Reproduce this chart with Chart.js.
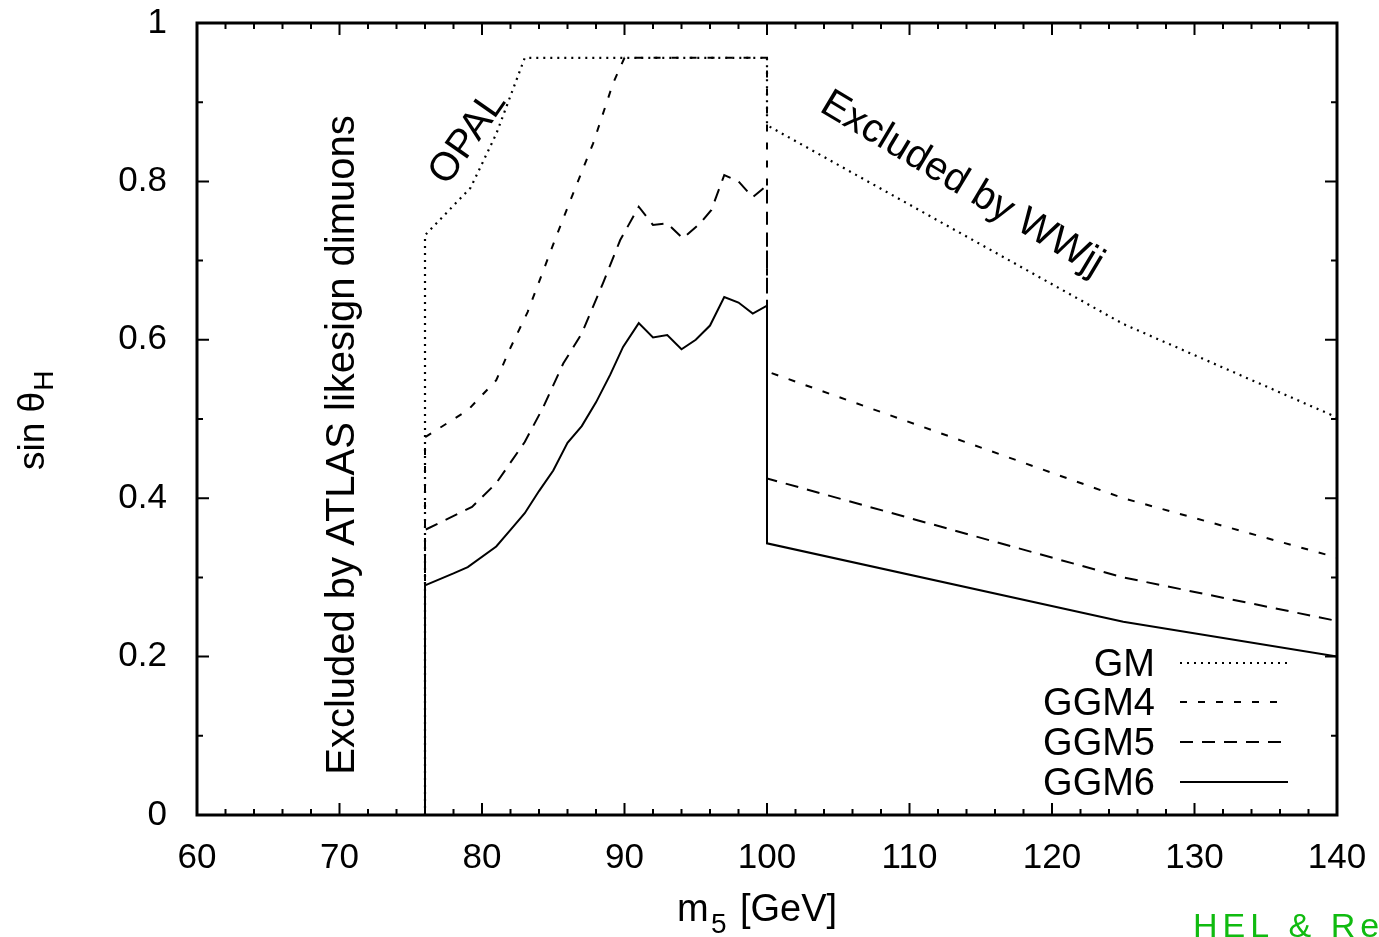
<!DOCTYPE html>
<html>
<head>
<meta charset="utf-8">
<script src="https://cdn.jsdelivr.net/npm/chart.js@4.4.1/dist/chart.umd.min.js"></script>
<style>
  html, body { margin: 0; padding: 0; background: #fff; }
  #wrap { width: 1379px; height: 937px; }
</style>
</head>
<body>
<div id="wrap"><canvas id="limitChart" width="1379" height="937"></canvas></div>
<script>
'use strict';

// limits (m5 in GeV, sin theta_H)
const gmX   = [76, 76, 79.2, 81, 83, 100, 100, 125, 140];
const gmY   = [0, 0.732, 0.792, 0.86, 0.956, 0.956, 0.871, 0.62, 0.502];

const ggm4X = [76, 76, 79, 81, 82, 83.2, 85.2, 86.2, 87.8, 89.2, 90, 100, 100, 125, 140];
const ggm4Y = [0, 0.477, 0.511, 0.549, 0.59, 0.635, 0.73, 0.776, 0.848, 0.924, 0.956, 0.956, 0.56, 0.40, 0.325];

const ggm5X = [76, 76, 79.3, 81, 83, 84.3, 85.7, 87, 88.5, 89.7, 91, 92, 93, 94.1, 95.3, 96.1, 97, 98, 99, 100, 100, 125, 140];
const ggm5Y = [0, 0.36, 0.389, 0.419, 0.471, 0.515, 0.57, 0.608, 0.672, 0.726, 0.768, 0.745, 0.747, 0.728, 0.747, 0.764, 0.808, 0.80, 0.78, 0.795, 0.425, 0.30, 0.245];

const ggm6X = [76, 76, 78, 79, 81, 82, 83, 84, 85, 86, 87, 88, 89, 89.9, 91, 92, 93, 94, 95, 96, 97, 98, 99, 100, 100, 125, 140];
const ggm6Y = [0, 0.29, 0.305, 0.313, 0.339, 0.36, 0.381, 0.409, 0.435, 0.47, 0.491, 0.521, 0.556, 0.591, 0.621, 0.603, 0.606, 0.588, 0.60, 0.618, 0.654, 0.647, 0.633, 0.643, 0.343, 0.244, 0.20];

const seriesNames = ['GM', 'GGM4', 'GGM5', 'GGM6'];
const xTicks = [60, 70, 80, 90, 100, 110, 120, 130, 140];
const yTicks = [0, 0.2, 0.4, 0.6, 0.8, 1];

const FONT = 'Liberation Sans, Arial, Helvetica, sans-serif';

function toPoints(xs, ys) {
    return xs.map((x, i) => ({ x: x, y: ys[i] }));
}

function line(label, xs, ys, dash, width) {
    return {
        label: label,
        data: toPoints(xs, ys),
        showLine: true,
        borderColor: '#000',
        borderWidth: width,
        borderDash: dash,
        pointRadius: 0,
        tension: 0,
        fill: false
    };
}

// no extra room for half tick labels, the layout padding decides the plot box
function noLabelPadding(scale) {
    scale.paddingTop = 0;
    scale.paddingBottom = 0;
    scale.paddingLeft = 0;
    scale.paddingRight = 0;
}

// frame, inward ticks on all four sides, legend and the texts on the plot
const decorations = {
    id: 'decorations',
    afterDatasetsDraw(chart) {
        const ctx = chart.ctx;
        const a = chart.chartArea;
        const xs = chart.scales.x;
        const ys = chart.scales.y;
        ctx.save();
        ctx.strokeStyle = '#000';
        ctx.fillStyle = '#000';

        // ticks
        ctx.lineWidth = 2;
        ctx.beginPath();
        for (let v = 60; v <= 140; v += 2) {
            const px = xs.getPixelForValue(v);
            const len = (v % 10 === 0) ? 12 : 6;
            ctx.moveTo(px, a.bottom); ctx.lineTo(px, a.bottom - len);
            ctx.moveTo(px, a.top); ctx.lineTo(px, a.top + len);
        }
        for (let k = 0; k <= 10; k++) {
            const py = ys.getPixelForValue(k / 10);
            const len = (k % 2 === 0) ? 12 : 6;
            ctx.moveTo(a.left, py); ctx.lineTo(a.left + len, py);
            ctx.moveTo(a.right, py); ctx.lineTo(a.right - len, py);
        }
        ctx.stroke();

        // frame
        ctx.lineWidth = 3;
        ctx.strokeRect(a.left, a.top, a.right - a.left, a.bottom - a.top);

        // legend
        const legY = [663, 702, 742, 782];
        ctx.font = '38px ' + FONT;
        ctx.textAlign = 'right';
        ctx.textBaseline = 'alphabetic';
        chart.data.datasets.forEach((ds, i) => {
            ctx.fillText(ds.label, 1155, legY[i] + 13);
            ctx.beginPath();
            ctx.lineWidth = ds.borderWidth;
            ctx.setLineDash(ds.borderDash);
            ctx.moveTo(1180, legY[i]);
            ctx.lineTo(1288, legY[i]);
            ctx.stroke();
        });
        ctx.setLineDash([]);

        // annotations
        ctx.font = '40px ' + FONT;
        ctx.textAlign = 'center';
        ctx.save();
        ctx.translate(354, 445);
        ctx.rotate(-Math.PI / 2);
        ctx.fillText('Excluded by ATLAS likesign dimuons', 0, 0);
        ctx.restore();

        ctx.save();
        ctx.translate(468, 138);
        ctx.rotate(-55 * Math.PI / 180);
        ctx.textBaseline = 'middle';
        ctx.fillText('OPAL', 0, 0);
        ctx.restore();

        ctx.save();
        ctx.translate(962, 184);
        ctx.rotate(31 * Math.PI / 180);
        ctx.textBaseline = 'middle';
        ctx.fillText('Excluded by WWjj', 0, 0);
        ctx.restore();

        // axis titles
        ctx.textAlign = 'left';
        ctx.textBaseline = 'alphabetic';
        ctx.font = '38px ' + FONT;
        ctx.fillText('m', 677, 921);
        ctx.font = '28px ' + FONT;
        ctx.fillText('5', 711, 933);
        ctx.font = '38px ' + FONT;
        ctx.fillText('[GeV]', 740, 921);

        ctx.save();
        ctx.translate(44, 470);
        ctx.rotate(-Math.PI / 2);
        ctx.font = '37px ' + FONT;
        ctx.fillText('sin \u03b8', 0, 0);
        const w = ctx.measureText('sin \u03b8').width;
        ctx.font = '28px ' + FONT;
        ctx.fillText('H', w + 1, 9);
        ctx.restore();

        // green tag at the bottom right
        ctx.fillStyle = '#10bb10';
        ctx.font = '34px ' + FONT;
        ctx.letterSpacing = '5px';
        ctx.fillText('HEL & Re', 1193, 937);
        ctx.restore();
    }
};

const ctx = document.getElementById('limitChart').getContext('2d');
const limitChart = new Chart(ctx, {
    type: 'scatter',
    data: {
        datasets: [
            line(seriesNames[0], gmX, gmY, [2, 5], 2.2),
            line(seriesNames[1], ggm4X, ggm4Y, [7, 11], 2),
            line(seriesNames[2], ggm5X, ggm5Y, [13, 9], 2),
            line(seriesNames[3], ggm6X, ggm6Y, [], 2)
        ]
    },
    options: {
        responsive: false,
        animation: false,
        layout: { padding: { top: 23, right: 42, left: 0, bottom: 0 } },
        plugins: {
            legend: { display: false },
            tooltip: { enabled: false }
        },
        scales: {
            x: {
                type: 'linear',
                min: 60,
                max: 140,
                afterBuildTicks: (scale) => { scale.ticks = xTicks.map(v => ({ value: v })); },
                afterFit: (scale) => { scale.height = 122; noLabelPadding(scale); },
                grid: { display: false },
                border: { display: false },
                ticks: { color: '#000', padding: 14, maxRotation: 0, font: { size: 35, family: FONT } }
            },
            y: {
                type: 'linear',
                min: 0,
                max: 1,
                afterBuildTicks: (scale) => { scale.ticks = yTicks.map(v => ({ value: v })); },
                afterFit: (scale) => { scale.width = 197; noLabelPadding(scale); },
                grid: { display: false },
                border: { display: false },
                ticks: {
                    color: '#000',
                    padding: 22,
                    font: { size: 35, family: FONT },
                    callback: (v) => String(+v.toFixed(1))
                }
            }
        }
    },
    plugins: [decorations]
});
</script>
</body>
</html>
